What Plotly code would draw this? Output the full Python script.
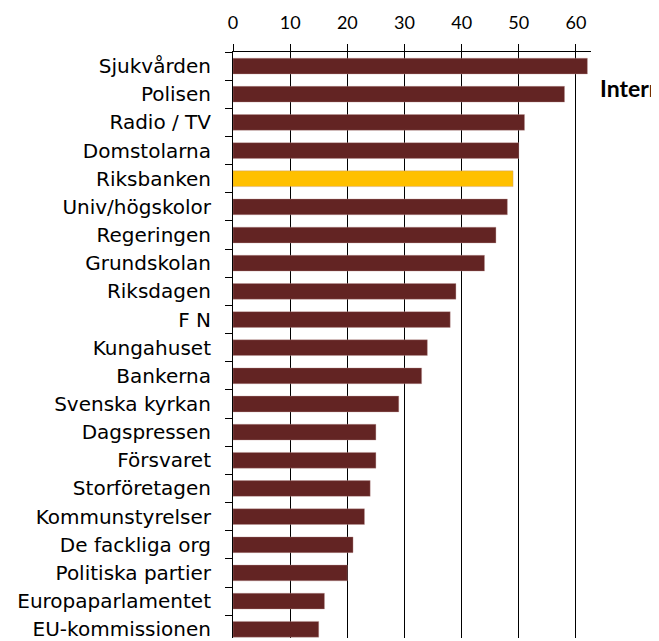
import plotly.graph_objects as go

categories = ["Sjukvården", "Polisen", "Radio / TV", "Domstolarna", "Riksbanken",
              "Univ/högskolor", "Regeringen", "Grundskolan", "Riksdagen", "F N",
              "Kungahuset", "Bankerna", "Svenska kyrkan", "Dagspressen", "Försvaret",
              "Storföretagen", "Kommunstyrelser", "De fackliga org", "Politiska partier",
              "Europaparlamentet", "EU-kommissionen"]
values = [62, 58, 51, 50, 49, 48, 46, 44, 39, 38, 34, 33, 29, 25, 25, 24, 23, 21, 20, 16, 15]
highlight = "Riksbanken"
x_ticks = [0, 10, 20, 30, 40, 50, 60]
side_label = "Internet"

colors = ["#FFC000" if c == highlight else "#632423" for c in categories]

fig = go.Figure(go.Bar(
    x=values, y=categories, orientation="h",
    marker=dict(color=colors, line=dict(color="rgba(190,150,150,0.6)", width=0.6)),
    width=0.56,
))

fig.update_layout(
    width=651, height=633,
    margin=dict(l=225, r=68, t=44, b=0),
    paper_bgcolor="white", plot_bgcolor="white",
    showlegend=False,
    xaxis=dict(
        side="top", range=[0, 62.63], tickvals=x_ticks,
        showgrid=True, gridcolor="black", gridwidth=1,
        showline=True, linecolor="black", linewidth=1,
        ticks="outside", ticklen=7, tickcolor="black",
        tickfont=dict(family="Lato", size=18, color="black"),
        ticklabelstandoff=8, zeroline=False,
    ),
    yaxis=dict(
        type="category", categoryorder="array", categoryarray=categories,
        range=[20.31, -0.5],
        showgrid=False, showline=True, linecolor="black", linewidth=1,
        ticks="outside", ticklen=7, tickcolor="black", tickson="boundaries",
        tickfont=dict(family="DejaVu Sans", size=20, color="black"),
        ticklabelstandoff=17,
    ),
    annotations=[dict(
        text="<b>" + side_label + "</b>", xref="paper", yref="paper",
        x=1.02, y=0.939, xanchor="left", yanchor="middle", showarrow=False,
        font=dict(family="Lato", size=23, color="black"),
    )],
)

fig.write_html("out.html")
